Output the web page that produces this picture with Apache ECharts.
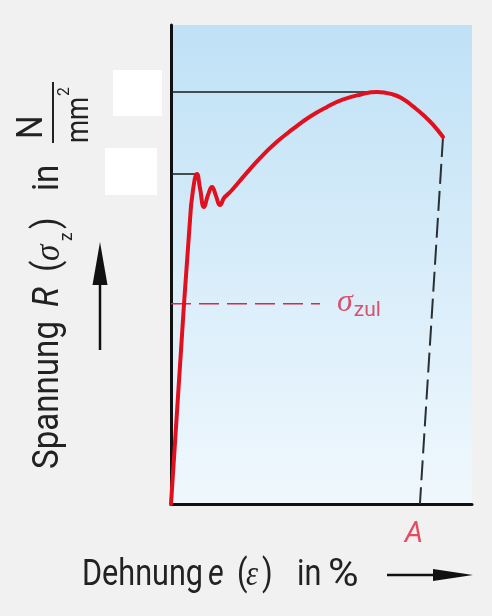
<!DOCTYPE html>
<html><head><meta charset="utf-8">
<script src="https://cdn.jsdelivr.net/npm/echarts@6/dist/echarts.min.js"></script>
<style>html,body{margin:0;padding:0;background:#f1f1f1}#c{width:492px;height:616px}</style>
</head><body><div id="c"></div>
<script>
// Stress–strain curve (relative units: strain 0..100, stress 0..100)
const elasticStrain = [0, 4.32, 6.31];
const elasticStress = [0, 41.75, 59.29];
const strain = [6.31, 7.31, 8.64, 9.63, 10.96, 12.29, 13.62, 14.95, 16.28, 17.61, 18.60, 20.27, 24.58, 29.57, 35.0, 40.53, 46.0, 51.83, 57.0, 62.79, 68.44, 73.75, 77.2, 80.40, 84.0, 87.04, 90.37];
const stress = [59.29, 65.55, 68.89, 65.97, 62.00, 64.51, 66.18, 64.30, 62.42, 63.88, 64.51, 65.55, 68.7, 72.2, 75.5, 78.3, 80.8, 82.9, 84.4, 85.45, 86.01, 85.5, 84.5, 83.0, 81.1, 79.2, 76.62];
const tensileStrength = 86.0;      // Rm level
const tensileStrain = 68.44;
const yieldStrength = 68.9;        // ReH level
const yieldStrain = 8.64;
const allowStress = 41.8;          // sigma_zul
const allowLineEnd = 49.5;
const fractureStrain = 82.7;       // A
const axisMin = 0, axisMax = 100;

const RED = '#e1101e';
const LABEL_RED = '#d62a48';
const elastic = elasticStrain.map((x, i) => [x, elasticStress[i]]);
const curve = strain.map((x, i) => [x, stress[i]]);
const lastPt = curve[curve.length - 1];

const chart = echarts.init(document.getElementById('c'), null, {renderer: 'canvas'});
const font = 'Roboto';
const txt = (text, x, y, opt) => Object.assign({
  type: 'text', x: x, y: y, silent: true,
  style: {text: text, x: 0, y: 0, fontFamily: font, fontSize: 36, fill: '#222', align: 'left', verticalAlign: 'middle'}
}, opt || {});
function ytxt(text, gx, gy, style, scale) {
  const t = txt(text, gx, gy, {rotation: Math.PI / 2, scaleX: scale || 0.92});
  Object.assign(t.style, style || {});
  return t;
}
function xtxt(text, x, y, style, scale) {
  const t = txt(text, x, y, {scaleX: scale || 0.85});
  Object.assign(t.style, style || {});
  return t;
}

chart.setOption({
  backgroundColor: '#f1f1f1',
  animation: false,
  grid: {
    left: 171, right: 20, top: 25, bottom: 112, show: true, borderWidth: 0,
    backgroundColor: new echarts.graphic.LinearGradient(0, 0, 0, 1, [
      {offset: 0, color: '#bfe1f6'}, {offset: 1, color: '#f0f8fd'}
    ])
  },
  xAxis: {
    type: 'value', min: axisMin, max: axisMax,
    axisLine: {show: true, onZero: false, lineStyle: {color: '#111', width: 3}},
    axisTick: {show: false}, axisLabel: {show: false}, splitLine: {show: false}
  },
  yAxis: {
    type: 'value', min: axisMin, max: axisMax,
    axisLine: {show: true, onZero: false, lineStyle: {color: '#111', width: 3}},
    axisTick: {show: false}, axisLabel: {show: false}, splitLine: {show: false}
  },
  series: [
    {type: 'line', symbol: 'none', silent: true, z: 2,
     data: [[axisMin, tensileStrength], [tensileStrain, tensileStrength]],
     lineStyle: {color: '#1a1a1a', width: 1.5}},
    {type: 'line', symbol: 'none', silent: true, z: 2,
     data: [[axisMin, yieldStrength], [yieldStrain, yieldStrength]],
     lineStyle: {color: '#1a1a1a', width: 1.5}},
    {type: 'line', symbol: 'none', silent: true, z: 2,
     data: [[axisMin, allowStress], [allowLineEnd, allowStress]],
     lineStyle: {color: LABEL_RED, width: 1.5, type: [20, 8]}},
    {type: 'line', symbol: 'none', silent: true, z: 2,
     data: [lastPt, [fractureStrain, axisMin]],
     lineStyle: {color: '#2a2f33', width: 2, type: [20, 7]}},
    {type: 'line', symbol: 'none', silent: true, z: 3,
     data: elastic,
     lineStyle: {color: RED, width: 4, cap: 'round'}},
    {type: 'line', symbol: 'none', silent: true, z: 3, smooth: 0.5,
     data: curve,
     lineStyle: {color: RED, width: 4, cap: 'round', join: 'round'}},
    {type: 'scatter', symbolSize: 0, silent: true, z: 4,
     data: [
       {value: [allowLineEnd, allowStress],
        label: {show: true, position: 'right', distance: 17, formatter: '{s|σ}{z|zul}',
          rich: {
            s: {fontFamily: 'Liberation Serif', fontStyle: 'italic', fontSize: 32, color: LABEL_RED, verticalAlign: 'bottom', lineHeight: 30},
            z: {fontFamily: font, fontSize: 21, color: LABEL_RED, verticalAlign: 'bottom', lineHeight: 30, padding: [0, 0, -2, 1]}
          }}},
       {value: [fractureStrain, axisMin],
        label: {show: true, position: 'bottom', distance: 16, offset: [-6, 0], formatter: 'A',
          fontFamily: font, fontStyle: 'italic', fontSize: 29, color: '#e2243a'}}
     ]}
  ],
  graphic: [
    {type: 'rect', shape: {x: 113, y: 70, width: 49, height: 46}, style: {fill: '#ffffff'}, silent: true},
    {type: 'rect', shape: {x: 105, y: 148, width: 52, height: 47}, style: {fill: '#ffffff'}, silent: true},
    // y arrow
    {type: 'line', shape: {x1: 100, y1: 350, x2: 100, y2: 280}, style: {stroke: '#111', lineWidth: 2.5}, silent: true},
    {type: 'polygon', shape: {points: [[100, 242], [92.5, 285], [107.5, 285]]}, style: {fill: '#111'}, silent: true},
    // x arrow
    {type: 'line', shape: {x1: 387, y1: 575, x2: 440, y2: 575}, style: {stroke: '#111', lineWidth: 2.5}, silent: true},
    {type: 'polygon', shape: {points: [[473, 575], [433, 569], [433, 581]]}, style: {fill: '#111'}, silent: true},
    // y title
    ytxt('Spannung', 49, 469),
    ytxt('R', 49, 307, {fontStyle: 'italic'}),
    ytxt('(', 49, 272),
    ytxt('σ', 50, 261, {fontFamily: 'Liberation Serif', fontStyle: 'italic', fontSize: 36}),
    ytxt('z', 67, 241, {fontSize: 19}),
    ytxt(')', 49, 229),
    ytxt('in', 49, 191),
    ytxt('N', 33, 139),
    {type: 'line', shape: {x1: 53, y1: 82, x2: 53, y2: 143}, style: {stroke: '#222', lineWidth: 2}, silent: true},
    ytxt('mm', 80, 143, {fontSize: 31}, 0.85),
    ytxt('2', 65, 96, {fontSize: 17}),
    // x title
    xtxt('Dehnung', 82, 576),
    xtxt('e', 208, 576, {fontStyle: 'italic'}),
    xtxt('(', 237, 576),
    xtxt('ε', 246, 576, {fontFamily: 'Liberation Serif', fontStyle: 'italic'}),
    xtxt(')', 262, 576),
    xtxt('in', 297, 576),
    xtxt('%', 328, 576, {fontSize: 38}, 1.1)
  ]
});
</script>
</body></html>
